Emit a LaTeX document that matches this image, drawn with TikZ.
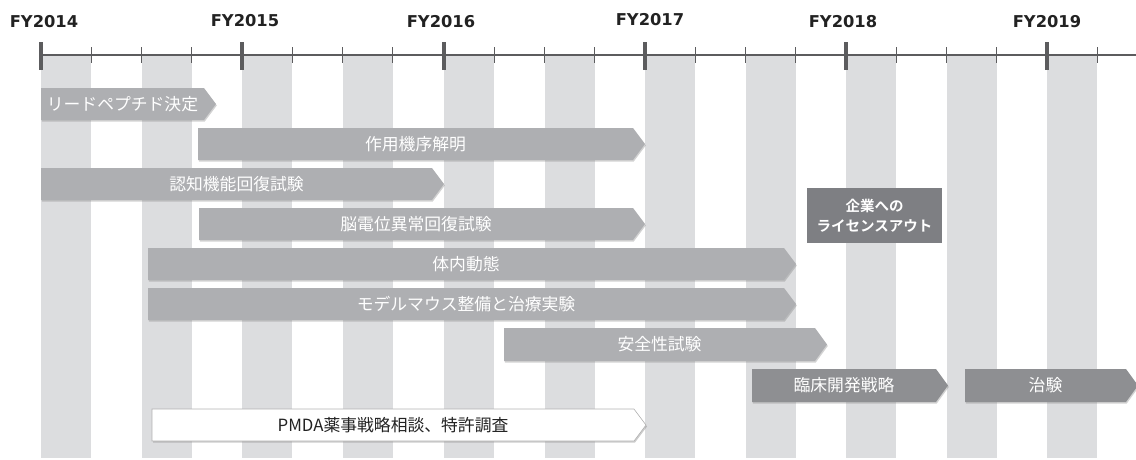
\documentclass[tikz,border=0pt]{standalone}
\usepackage{fontspec}
\setmainfont{DejaVu Sans}
\newfontfamily\jp{Noto Sans CJK JP}
\newfontfamily\jpb{Noto Sans CJK JP Bold}
\usetikzlibrary{shadows}
\definecolor{stripecol}{HTML}{DCDDDF}
\definecolor{barcol}{HTML}{AEAFB2}
\definecolor{darkbar}{HTML}{8E8F92}
\definecolor{boxcol}{HTML}{7E7F83}
\definecolor{axiscol}{HTML}{5C5C5E}
\definecolor{labcol}{HTML}{222222}
\tikzset{
  stripe/.style={fill=stripecol, draw=none},
  barshape/.style={fill=barcol, draw=none, drop shadow={shadow xshift=0.8pt, shadow yshift=-1.5pt, opacity=0.35}},
  darkshape/.style={fill=darkbar, draw=none, drop shadow={shadow xshift=0.8pt, shadow yshift=-1.5pt, opacity=0.35}},
  whiteshape/.style={fill=white, draw=gray!60, line width=0.6pt, drop shadow={shadow xshift=1pt, shadow yshift=-1.5pt, opacity=0.4}},
  bartext/.style={text=white, font=\jp\fontsize{16.8}{18}\selectfont, inner sep=0pt},
  darktext/.style={text=labcol, font=\jp\fontsize{16.8}{18}\selectfont, inner sep=0pt},
  yearlab/.style={text=labcol, font=\bfseries\fontsize{16.3}{18}\selectfont, inner sep=0pt},
  majortick/.style={draw=axiscol, line width=3.5pt},
  minortick/.style={draw=axiscol, line width=0.8pt},
  axisline/.style={draw=axiscol, line width=2.6pt},
  licbox/.style={fill=boxcol, text=white, font=\jpb\fontsize{14.5}{20}\selectfont, align=center, minimum width=135pt, minimum height=55pt, inner sep=0pt},
}
% name, x0, tip x, top y, bottom y, shape style, text style, text
\newcommand\tlbar[8]{%
  \path[#6] (#2,#4) -- ({#3-12},#4) -- (#3,{(#4+#5)/2}) -- ({#3-12},#5) -- (#2,#5) -- cycle;
  \node[#7] (#1) at ({(#2+#3-12)/2},{(#4+#5)/2}) {#8};
}
\begin{document}
\begin{tikzpicture}[x=1pt,y=-1pt]
\useasboundingbox (0,0) rectangle (1136,459);
% stripes
\foreach \s in {41,141.5,242,342.5,444,544.5,645,745.5,846,946.5,1047}
  \path[stripe] (\s,56) rectangle ({\s+50.3},458);
% axis
\coordinate (axL) at (41,55);
\coordinate (axR) at (1136,55);
\draw[axisline] (axL) -- (axR);
\foreach \m in {91.3,141.5,191.8,292.3,342.5,392.8,494.3,544.5,594.8,695.3,745.5,795.8,896.3,946.5,996.8,1097.3}
  \draw[minortick] (\m,47) -- (\m,63);
\foreach \M in {41,242,444,645,846,1047}
  \draw[majortick] (\M,42) -- (\M,70);
% year labels
\node[yearlab] (y14) at (44,22) {FY2014};
\node[yearlab] (y15) at (245,21) {FY2015};
\node[yearlab] (y16) at (441,22) {FY2016};
\node[yearlab] (y17) at (650,20) {FY2017};
\node[yearlab] (y18) at (843,22) {FY2018};
\node[yearlab] (y19) at (1047,22) {FY2019};
% bars
\tlbar{b1}{41}{216}{88}{120}{barshape}{bartext}{リードペプチド決定}
\tlbar{b2}{198}{645}{128}{160}{barshape}{bartext}{作用機序解明}
\tlbar{b3}{41}{444}{168}{200}{barshape}{bartext}{認知機能回復試験}
\tlbar{b4}{199}{645}{208}{240}{barshape}{bartext}{脳電位異常回復試験}
\tlbar{b5}{148}{796}{248}{280}{barshape}{bartext}{体内動態}
\tlbar{b6}{148}{796}{288}{320}{barshape}{bartext}{モデルマウス整備と治療実験}
\tlbar{b7}{504}{827}{328}{361}{barshape}{bartext}{安全性試験}
\tlbar{b8}{752}{948}{369}{402}{darkshape}{bartext}{臨床開発戦略}
\tlbar{b9}{965}{1138}{369}{402}{darkshape}{bartext}{治験}
\tlbar{b10}{152}{646}{409}{441}{whiteshape}{darktext}{PMDA薬事戦略相談、特許調査}
% license-out box
\node[licbox] (lic) at (874.5,215.5) {企業への\\ライセンスアウト};
\end{tikzpicture}
\end{document}
